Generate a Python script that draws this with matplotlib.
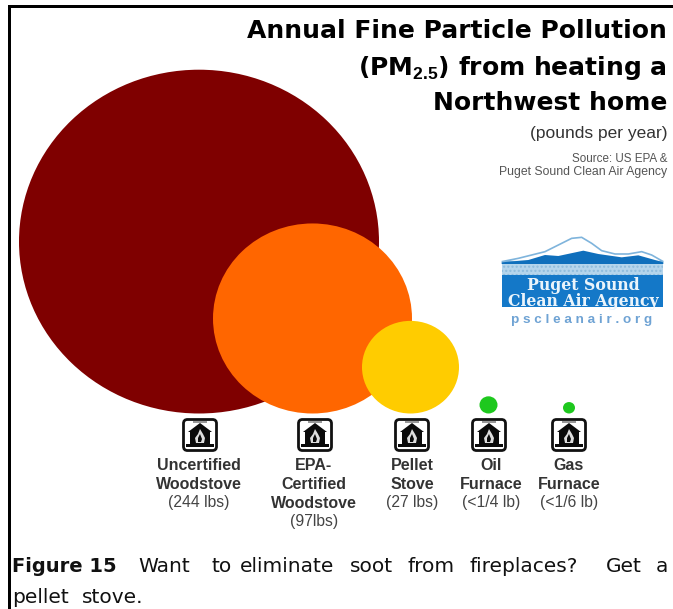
import numpy as np
import matplotlib
matplotlib.use('Agg')
import matplotlib.pyplot as plt
from matplotlib.patches import Ellipse, FancyBboxPatch, Polygon, Rectangle

# Data
categories = [['Uncertified', 'Woodstove'], ['EPA-', 'Certified', 'Woodstove'],
              ['Pellet', 'Stove'], ['Oil', 'Furnace'], ['Gas', 'Furnace']]
amount_labels = ['(244 lbs)', '(97lbs)', '(27 lbs)', '(<1/4 lb)', '(<1/6 lb)']
pounds_per_year = [244, 97, 27, 0.25, 0.167]
bubble_colors = ['#7f0000', '#ff6600', '#ffcc00', '#1ec81e', '#1ec81e']

# Bubble sizes are not area-proportional, so the scale is piecewise
size_scale_lbs = [0.167, 0.25, 27, 97, 244]
size_scale_px = [12, 18, 97, 199, 360]

centers_x = [199, 312.5, 410.5, 488.5, 569]
icon_x = [200, 315, 412, 489, 569]
label_x = [199, 314, 412, 491, 569]
BUBBLE_BOTTOM = 413.5
SQUASH = 0.955

plt.rcParams['font.family'] = ['Liberation Sans', 'DejaVu Sans']
plt.rcParams['mathtext.fontset'] = 'custom'
plt.rcParams['mathtext.bf'] = 'Liberation Sans:bold'

fig = plt.figure(figsize=(6.73, 6.09), dpi=100)
ax = fig.add_axes([0, 0, 1, 1])
ax.set_xlim(0, 673)
ax.set_ylim(609, 0)
ax.axis('off')


def draw_icon(cx, cy):
    ax.add_patch(FancyBboxPatch((cx - 15, cy - 14), 30, 28, boxstyle='round,pad=1.5,rounding_size=4',
                                fc='white', ec='#111111', lw=2))
    ax.add_patch(Rectangle((cx - 7, cy - 14.5), 14, 2.5, fc='#999999', ec='none'))
    house = [(cx, cy - 12), (cx + 12, cy - 3), (cx + 10, cy - 3), (cx + 10, cy + 9), (cx + 14, cy + 9),
             (cx + 14, cy + 12), (cx - 14, cy + 12), (cx - 14, cy + 9), (cx - 10, cy + 9),
             (cx - 10, cy - 3), (cx - 12, cy - 3)]
    ax.add_patch(Polygon(house, closed=True, fc='#0a0a0a', ec='none'))
    flame = [(cx, cy - 6), (cx + 3, cy - 1), (cx + 5, cy + 3), (cx + 4, cy + 8), (cx - 4, cy + 8),
             (cx - 5, cy + 3), (cx - 2, cy - 1)]
    ax.add_patch(Polygon(flame, closed=True, fc='#dddddd', ec='none'))
    ax.add_patch(Polygon([(cx, cy - 1), (cx + 2, cy + 4), (cx + 1, cy + 7), (cx - 2, cy + 7), (cx - 2, cy + 3)],
                         closed=True, fc='#0a0a0a', ec='none'))


def logo_pts(pts):
    return [(495 + x / 3, 230 + y / 3) for x, y in pts]


# Frame around the figure
ax.add_patch(Rectangle((8, 5), 665, 3, fc='black', ec='none'))
ax.add_patch(Rectangle((8, 5), 3, 604, fc='black', ec='none'))

# Bubbles, all sitting on the same bottom line
diameters = np.interp(pounds_per_year, size_scale_lbs, size_scale_px)
for x, d, c in zip(centers_x, diameters, bubble_colors):
    h = d * SQUASH
    ax.add_patch(Ellipse((x, BUBBLE_BOTTOM - h / 2), d, h, fc=c, ec='none'))

# Icons and labels under each bubble
for i, lines in enumerate(categories):
    draw_icon(icon_x[i], 435)
    y = 466
    for line in lines:
        ax.text(label_x[i], y, line, ha='center', va='center', fontsize=11.5, fontweight='bold', color='#333333')
        y += 18.5
    ax.text(label_x[i], y, amount_labels[i], ha='center', va='center', fontsize=11.3, color='#444444')

# Title block
title_kw = dict(ha='right', va='baseline', fontsize=18, fontweight='bold', family='DejaVu Sans', color='black')
ax.text(667, 38, 'Annual Fine Particle Pollution', **title_kw)
ax.text(667, 75, r'(PM$_{\mathbf{2.5}}$) from heating a', **title_kw)
ax.text(667, 110, 'Northwest home', **title_kw)
ax.text(667, 138, '(pounds per year)', ha='right', va='baseline', fontsize=12.5, color='#333333')
ax.text(667, 159, 'Source: US EPA &', ha='right', va='center', fontsize=8.4, color='#555555')
ax.text(667, 172, 'Puget Sound Clean Air Agency', ha='right', va='center', fontsize=8.8, color='#555555')

# Agency logo
mountain = [(20, 95), (70, 85), (110, 75), (150, 65), (190, 45), (230, 25), (260, 22), (290, 40), (320, 62),
            (360, 72), (400, 72), (440, 65), (470, 75), (505, 95)]
ax.add_patch(Polygon(logo_pts(mountain), closed=True, fc='white', ec='#7fb4dc', lw=1.2))
hills = [(20, 97), (100, 90), (150, 75), (190, 78), (265, 62), (310, 72), (380, 82), (430, 76), (505, 97),
         (505, 102), (20, 102)]
ax.add_patch(Polygon(logo_pts(hills), closed=True, fc='#0f6fbc', ec='none'))
ax.add_patch(Rectangle((502, 264), 161, 11.5, fc='#b5d5ec', ec='#8fbcdc', hatch='....', lw=0))
ax.add_patch(Rectangle((502, 275), 161, 32, fc='#1478c8', ec='none'))
ax.text(583, 285, 'Puget Sound', ha='center', va='center', fontsize=11.3, fontweight='bold',
        family='DejaVu Serif', color='#eaf4fb')
ax.text(583, 301, 'Clean Air Agency', ha='center', va='center', fontsize=11.3, fontweight='bold',
        family='DejaVu Serif', color='#eaf4fb')
ax.text(582, 320, 'p s c l e a n a i r . o r g', ha='center', va='center', fontsize=9.7, fontweight='bold',
        color='#6fa3d4')

# Caption under the chart, placed word by word to keep its wide spacing
ax.text(12, 571.5, 'Figure 15', ha='left', va='baseline', fontsize=14, fontweight='bold', family='DejaVu Sans',
        color='#111111')
caption_words = ['Want', 'to', 'eliminate', 'soot', 'from', 'fireplaces?', 'Get', 'a']
caption_x = [138, 212, 240, 350, 408, 470, 606, 656]
for word, x in zip(caption_words, caption_x):
    ax.text(x, 571.5, word, ha='left', va='baseline', fontsize=14.5, family='DejaVu Sans', color='#111111')
ax.text(12, 603, 'pellet', ha='left', va='baseline', fontsize=14.5, family='DejaVu Sans', color='#111111')
ax.text(82, 603, 'stove.', ha='left', va='baseline', fontsize=14.5, family='DejaVu Sans', color='#111111')

fig.savefig('out.png', dpi=100)
